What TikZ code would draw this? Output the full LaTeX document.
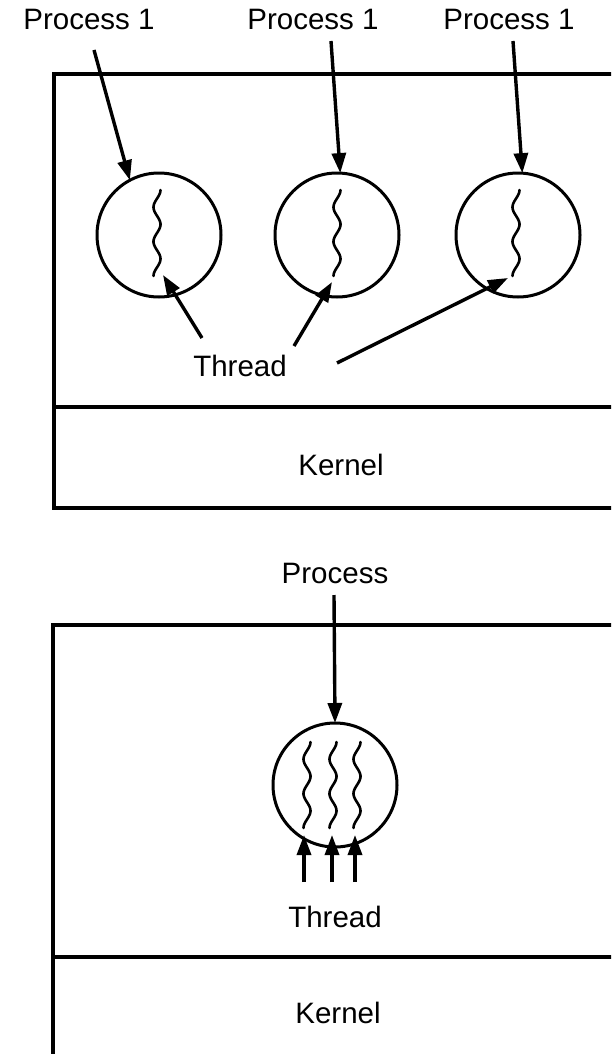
\documentclass[tikz,border=0pt]{standalone}
\usepackage{fontspec}
\setmainfont{Liberation Sans}
\usetikzlibrary{positioning,arrows.meta}

\tikzset{
  lbl/.style={font=\fontsize{29.5pt}{34pt}\selectfont, anchor=base, inner sep=0pt},
  proc/.style={draw, circle, line width=3pt, minimum size=124pt, inner sep=0pt, outer sep=0pt},
  thr/.style={line width=2.6pt, line cap=round},
  wave/.style={domain=0:86, samples=60, smooth},
  ptr/.style={line width=3.4pt, -{Triangle[length=20pt,width=14pt]}},
  wall/.style={line width=3.2pt},
}

\begin{document}
\begin{tikzpicture}[x=1pt,y=-1pt]
  \clip (0,0) rectangle (611,1054);

  % one thread per process
  \draw[wall] (620,74) -- (54,74) -- (54,508) -- (620,508);
  \draw[wall] (54,407) -- (620,407);

  \node[lbl] (pa) at (89,30) {Process 1};
  \node[lbl] (pb) at (313,30) {Process 1};
  \node[lbl] (pc) at (509,30) {Process 1};

  \node[proc] (c1) at (159,235) {};
  \node[proc, right=54pt of c1] (c2) {};
  \node[proc, right=57pt of c2] (c3) {};

  \coordinate (t1) at (157,190);
  \coordinate (t2) at (337,190);
  \coordinate (t3) at (516,190);
  \foreach \t in {t1,t2,t3}
    \draw[thr, shift={(\t)}] plot[wave] ({3.5*cos(\x*10.465)}, \x);

  \coordinate (s1) at (94,50);
  \coordinate (s2) at (331,41);
  \coordinate (s3) at (513,41);
  \draw[ptr] (s1) -- (c1.118);
  \draw[ptr] (s2) -- (c2.87);
  \draw[ptr] (s3) -- (c3.86);

  \node[lbl] (th) at (240,376) {Thread};
  \coordinate (u1) at (202,338); \coordinate (h1) at (163,275);
  \coordinate (u2) at (294,346); \coordinate (h2) at (332,282);
  \coordinate (u3) at (337,363); \coordinate (h3) at (508,278);
  \draw[ptr] (u1) -- (h1);
  \draw[ptr] (u2) -- (h2);
  \draw[ptr] (u3) -- (h3);

  \node[lbl] (k1) at (341,475) {Kernel};

  % one process, three threads
  \draw[wall] (620,625) -- (53,625) -- (53,1060);
  \draw[wall] (53,957) -- (620,957);

  \node[lbl] (pd) at (335,583) {Process};
  \node[proc] (c4) at (335,785) {};
  \coordinate (s4) at (334,595);
  \draw[ptr] (s4) -- (c4.north);

  \foreach \p [count=\i] in {307,333,357} {
    \coordinate (q\i) at (\p,742);
    \draw[thr, shift={(q\i)}] plot[wave] ({3.5*cos(\x*10.465)}, \x);
  }
  \foreach \p [count=\i] in {304,332,355} {
    \coordinate (v\i) at (\p,882);
    \coordinate (w\i) at (\p,835);
    \draw[ptr] (v\i) -- (w\i);
  }

  \node[lbl] (th2) at (335,927) {Thread};
  \node[lbl] (k2) at (338,1023) {Kernel};
\end{tikzpicture}
\end{document}
